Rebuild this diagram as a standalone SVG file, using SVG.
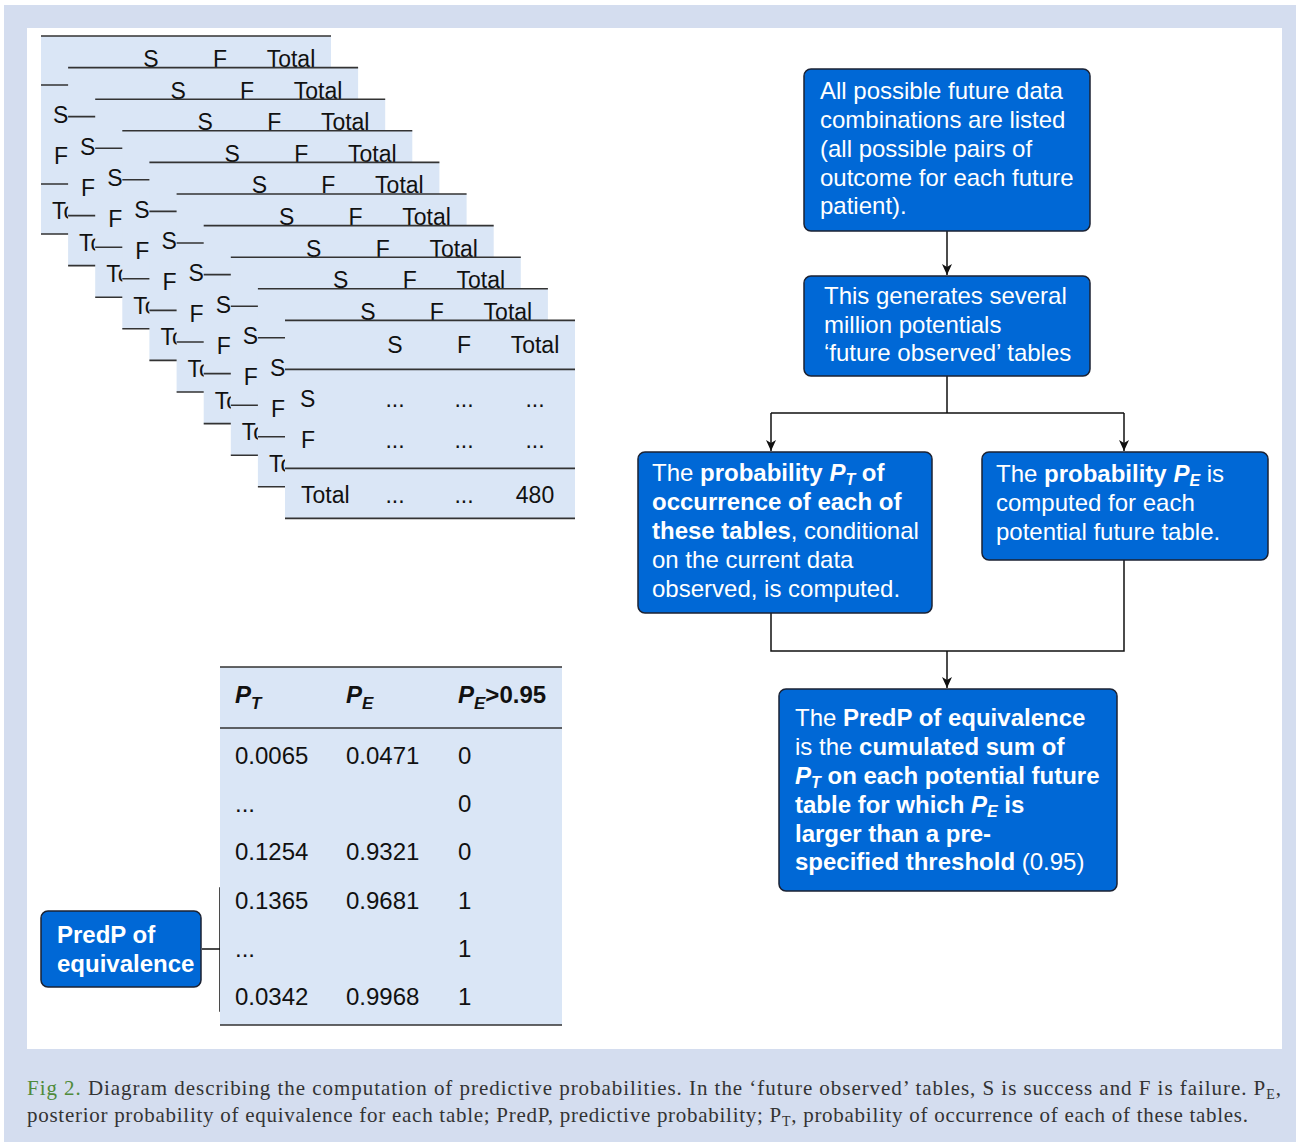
<svg xmlns="http://www.w3.org/2000/svg" width="1298" height="1142" viewBox="0 0 1298 1142">
<defs>
<style>
.tb{fill:#dae6f6;}
.tl{stroke:#333;stroke-width:1.6;fill:none;}
.tt{font-family:"Liberation Sans",Arial,sans-serif;font-size:23px;fill:#111;}
.tm{text-anchor:middle;}
.box{fill:#0068d6;stroke:#1b2233;stroke-width:1.5;}
.bt{font-family:"Liberation Sans",Arial,sans-serif;font-size:24px;fill:#fff;}
.pt{font-family:"Liberation Sans",Arial,sans-serif;font-size:24px;fill:#111;}
.b{font-weight:bold;}
.i{font-style:italic;}
.conn{stroke:#111;stroke-width:1.5;fill:none;}
.cap{font-family:"Liberation Serif","DejaVu Serif",serif;font-size:21px;fill:#333;}
</style>
<marker id="arr" markerUnits="userSpaceOnUse" markerWidth="12" markerHeight="11" refX="11" refY="5" orient="auto">
<path d="M0,0 L11,5 L0,10 L3,5 z" fill="#111"/>
</marker>
</defs>
<rect x="0" y="0" width="1298" height="1142" fill="#ffffff"/>
<rect x="4" y="5" width="1292" height="1137" fill="#d4ddef"/>
<rect x="27" y="28" width="1255" height="1021" fill="#ffffff"/>

<g id="stack">
<g id="table-1" transform="translate(41,36)">
<rect class="tb" x="0" y="0" width="290" height="198"/>
<path class="tl" d="M0,0H290M0,49H290M0,148H290M0,198H290"/>
<g class="tt" transform="scale(1,1.05)">
<text class="tm" x="110" y="29.5">S</text><text class="tm" x="179" y="29.5">F</text><text class="tm" x="250" y="29.5">Total</text>
<text x="12" y="82.9">S</text><text x="13" y="121.9">F</text><text x="11" y="174.3">To</text>
</g>
</g>
<g id="table-2" transform="translate(68.1,67.6)">
<rect class="tb" x="0" y="0" width="290" height="198"/>
<path class="tl" d="M0,0H290M0,49H290M0,148H290M0,198H290"/>
<g class="tt" transform="scale(1,1.05)">
<text class="tm" x="110" y="29.5">S</text><text class="tm" x="179" y="29.5">F</text><text class="tm" x="250" y="29.5">Total</text>
<text x="12" y="82.9">S</text><text x="13" y="121.9">F</text><text x="11" y="174.3">To</text>
</g>
</g>
<g id="table-3" transform="translate(95.2,99.2)">
<rect class="tb" x="0" y="0" width="290" height="198"/>
<path class="tl" d="M0,0H290M0,49H290M0,148H290M0,198H290"/>
<g class="tt" transform="scale(1,1.05)">
<text class="tm" x="110" y="29.5">S</text><text class="tm" x="179" y="29.5">F</text><text class="tm" x="250" y="29.5">Total</text>
<text x="12" y="82.9">S</text><text x="13" y="121.9">F</text><text x="11" y="174.3">To</text>
</g>
</g>
<g id="table-4" transform="translate(122.3,130.8)">
<rect class="tb" x="0" y="0" width="290" height="198"/>
<path class="tl" d="M0,0H290M0,49H290M0,148H290M0,198H290"/>
<g class="tt" transform="scale(1,1.05)">
<text class="tm" x="110" y="29.5">S</text><text class="tm" x="179" y="29.5">F</text><text class="tm" x="250" y="29.5">Total</text>
<text x="12" y="82.9">S</text><text x="13" y="121.9">F</text><text x="11" y="174.3">To</text>
</g>
</g>
<g id="table-5" transform="translate(149.4,162.4)">
<rect class="tb" x="0" y="0" width="290" height="198"/>
<path class="tl" d="M0,0H290M0,49H290M0,148H290M0,198H290"/>
<g class="tt" transform="scale(1,1.05)">
<text class="tm" x="110" y="29.5">S</text><text class="tm" x="179" y="29.5">F</text><text class="tm" x="250" y="29.5">Total</text>
<text x="12" y="82.9">S</text><text x="13" y="121.9">F</text><text x="11" y="174.3">To</text>
</g>
</g>
<g id="table-6" transform="translate(176.6,194)">
<rect class="tb" x="0" y="0" width="290" height="198"/>
<path class="tl" d="M0,0H290M0,49H290M0,148H290M0,198H290"/>
<g class="tt" transform="scale(1,1.05)">
<text class="tm" x="110" y="29.5">S</text><text class="tm" x="179" y="29.5">F</text><text class="tm" x="250" y="29.5">Total</text>
<text x="12" y="82.9">S</text><text x="13" y="121.9">F</text><text x="11" y="174.3">To</text>
</g>
</g>
<g id="table-7" transform="translate(203.7,225.6)">
<rect class="tb" x="0" y="0" width="290" height="198"/>
<path class="tl" d="M0,0H290M0,49H290M0,148H290M0,198H290"/>
<g class="tt" transform="scale(1,1.05)">
<text class="tm" x="110" y="29.5">S</text><text class="tm" x="179" y="29.5">F</text><text class="tm" x="250" y="29.5">Total</text>
<text x="12" y="82.9">S</text><text x="13" y="121.9">F</text><text x="11" y="174.3">To</text>
</g>
</g>
<g id="table-8" transform="translate(230.8,257.2)">
<rect class="tb" x="0" y="0" width="290" height="198"/>
<path class="tl" d="M0,0H290M0,49H290M0,148H290M0,198H290"/>
<g class="tt" transform="scale(1,1.05)">
<text class="tm" x="110" y="29.5">S</text><text class="tm" x="179" y="29.5">F</text><text class="tm" x="250" y="29.5">Total</text>
<text x="12" y="82.9">S</text><text x="13" y="121.9">F</text><text x="11" y="174.3">To</text>
</g>
</g>
<g id="table-9" transform="translate(257.9,288.8)">
<rect class="tb" x="0" y="0" width="290" height="198"/>
<path class="tl" d="M0,0H290M0,49H290M0,148H290M0,198H290"/>
<g class="tt" transform="scale(1,1.05)">
<text class="tm" x="110" y="29.5">S</text><text class="tm" x="179" y="29.5">F</text><text class="tm" x="250" y="29.5">Total</text>
<text x="12" y="82.9">S</text><text x="13" y="121.9">F</text><text x="11" y="174.3">To</text>
</g>
</g>
<g id="table-10" transform="translate(285,320.4)">
<rect class="tb" x="0" y="0" width="290" height="198"/>
<path class="tl" d="M0,0H290M0,49H290M0,148H290M0,198H290"/>
<g class="tt" transform="scale(1,1.05)">
<text class="tm" x="110" y="31.4">S</text><text class="tm" x="179" y="31.4">F</text><text class="tm" x="250" y="31.4">Total</text>
<text x="15" y="82.9">S</text><text class="tm" x="110" y="82.9">...</text><text class="tm" x="179" y="82.9">...</text><text class="tm" x="250" y="82.9">...</text>
<text x="16" y="121.9">F</text><text class="tm" x="110" y="121.9">...</text><text class="tm" x="179" y="121.9">...</text><text class="tm" x="250" y="121.9">...</text>
<text x="16" y="174.3">Total</text><text class="tm" x="110" y="174.3">...</text><text class="tm" x="179" y="174.3">...</text><text class="tm" x="250" y="174.3">480</text>
</g>
</g>
</g>

<g id="connectors">
<path class="conn" d="M947,231V275" marker-end="url(#arr)"/>
<path class="conn" d="M947,376V413M771,413H1124"/>
<path class="conn" d="M771,413V451" marker-end="url(#arr)"/>
<path class="conn" d="M1124,413V451" marker-end="url(#arr)"/>
<path class="conn" d="M771,613V651H1124V560"/>
<path class="conn" d="M947,651V688" marker-end="url(#arr)"/>
<path class="conn" d="M235,888H220V1011H235M202,949H220"/>
</g>

<g id="box-list">
<rect class="box" x="804" y="69" width="286" height="162" rx="7"/>
<text class="bt" x="820" y="99">All possible future data</text>
<text class="bt" x="820" y="128">combinations are listed</text>
<text class="bt" x="820" y="157">(all possible pairs of</text>
<text class="bt" x="820" y="186">outcome for each future</text>
<text class="bt" x="820" y="214">patient).</text>
</g>

<g id="box-generate">
<rect class="box" x="804" y="276" width="286" height="100" rx="7"/>
<text class="bt" x="824" y="304">This generates several</text>
<text class="bt" x="824" y="333">million potentials</text>
<text class="bt" x="824" y="361">‘future observed’ tables</text>
</g>

<g id="box-pt">
<rect class="box" x="638" y="452" width="294" height="161" rx="7"/>
<text class="bt" x="652" y="481">The <tspan class="b">probability </tspan><tspan class="b i">P</tspan><tspan class="b i" font-size="16" dy="3.5">T</tspan><tspan class="b" dy="-3.5"> of</tspan></text>
<text class="bt b" x="652" y="510">occurrence of each of</text>
<text class="bt" x="652" y="539"><tspan class="b">these tables</tspan>, conditional</text>
<text class="bt" x="652" y="568">on the current data</text>
<text class="bt" x="652" y="597">observed, is computed.</text>
</g>

<g id="box-pe">
<rect class="box" x="982" y="452" width="286" height="108" rx="7"/>
<text class="bt" x="996" y="482">The <tspan class="b">probability </tspan><tspan class="b i">P</tspan><tspan class="b i" font-size="16" dy="3.5">E</tspan><tspan dy="-3.5"> is</tspan></text>
<text class="bt" x="996" y="511">computed for each</text>
<text class="bt" x="996" y="540">potential future table.</text>
</g>

<g id="box-predp">
<rect class="box" x="779" y="689" width="338" height="202" rx="7"/>
<text class="bt" x="795" y="726">The <tspan class="b">PredP of equivalence</tspan></text>
<text class="bt" x="795" y="755">is the <tspan class="b">cumulated sum of</tspan></text>
<text class="bt b" x="795" y="784"><tspan class="i">P</tspan><tspan class="i" font-size="16" dy="3.5">T</tspan><tspan dy="-3.5"> on each potential future</tspan></text>
<text class="bt b" x="795" y="813">table for which <tspan class="i">P</tspan><tspan class="i" font-size="16" dy="3.5">E</tspan><tspan dy="-3.5"> is</tspan></text>
<text class="bt b" x="795" y="842">larger than a pre-</text>
<text class="bt" x="795" y="870"><tspan class="b">specified threshold</tspan> (0.95)</text>
</g>

<g id="result-table">
<rect class="tb" x="220" y="667" width="342" height="358"/>
<path class="tl" d="M220,667H562M220,728H562M220,1025H562"/>
<text class="pt b" x="235" y="703"><tspan class="i">P</tspan><tspan class="i" font-size="17" dy="6">T</tspan></text>
<text class="pt b" x="346" y="703"><tspan class="i">P</tspan><tspan class="i" font-size="17" dy="6">E</tspan></text>
<text class="pt b" x="458" y="703"><tspan class="i">P</tspan><tspan class="i" font-size="17" dy="6">E</tspan><tspan dy="-6">&gt;0.95</tspan></text>
<text class="pt" x="235" y="764">0.0065</text><text class="pt" x="346" y="764">0.0471</text><text class="pt" x="458" y="764">0</text>
<text class="pt" x="235" y="812">...</text><text class="pt" x="458" y="812">0</text>
<text class="pt" x="235" y="860">0.1254</text><text class="pt" x="346" y="860">0.9321</text><text class="pt" x="458" y="860">0</text>
<text class="pt" x="235" y="909">0.1365</text><text class="pt" x="346" y="909">0.9681</text><text class="pt" x="458" y="909">1</text>
<text class="pt" x="235" y="957">...</text><text class="pt" x="458" y="957">1</text>
<text class="pt" x="235" y="1005">0.0342</text><text class="pt" x="346" y="1005">0.9968</text><text class="pt" x="458" y="1005">1</text>
</g>

<g id="box-summary">
<rect class="box" x="41" y="911" width="160" height="76" rx="7"/>
<text class="bt b" x="57" y="943">PredP of</text>
<text class="bt b" x="57" y="972">equivalence</text>
</g>

<g id="caption">
<text class="cap" x="27" y="1095" textLength="1254" lengthAdjust="spacing"><tspan fill="#4f8a3a">Fig 2.</tspan> Diagram describing the computation of predictive probabilities. In the ‘future observed’ tables, S is success and F is failure. P<tspan font-size="14" dy="4">E</tspan><tspan dy="-4">,</tspan></text>
<text class="cap" x="27" y="1122" textLength="1221" lengthAdjust="spacing">posterior probability of equivalence for each table; PredP, predictive probability; P<tspan font-size="14" dy="4">T</tspan><tspan dy="-4">, probability of occurrence of each of these tables.</tspan></text>
</g>
</svg>
